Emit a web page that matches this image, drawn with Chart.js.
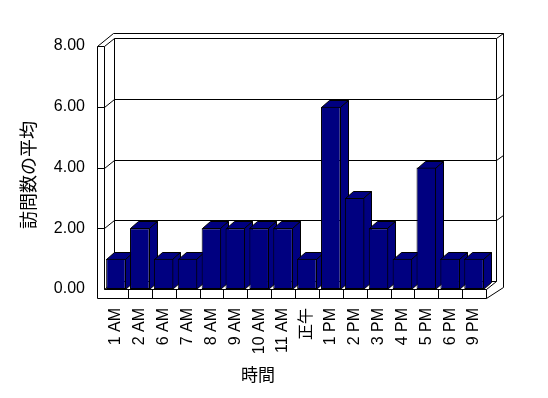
<!DOCTYPE html>
<html>
<head>
<meta charset="utf-8">
<script src="https://cdn.jsdelivr.net/npm/chart.js@4.4.1/dist/chart.umd.min.js"></script>
<style>
  html, body { margin: 0; padding: 0; background: #fff; }
  canvas { display: block; }
</style>
</head>
<body>
<canvas id="visits" width="548" height="398"></canvas>
<script>
// data
const hours = ['1 AM', '2 AM', '6 AM', '7 AM', '8 AM', '9 AM', '10 AM', '11 AM', '正午',
  '1 PM', '2 PM', '3 PM', '4 PM', '5 PM', '6 PM', '9 PM'];
const avgVisits = [1, 2, 1, 1, 2, 2, 2, 2, 1, 6, 3, 2, 1, 4, 1, 1];
const yTicks = [0, 2, 4, 6, 8];
const yTitle = '訪問数の平均';
const xTitle = '時間';

const NAVY = '#000080';
const FONT = "'Liberation Sans', 'Noto Sans CJK JP', sans-serif";
const DX = 8, DY = 7;    // bar depth
const WX = 10, WY = 8;   // back wall offset
const SLAB = 7;          // wall thickness

function path(ctx, pts, fill) {
  ctx.beginPath();
  ctx.moveTo(Math.round(pts[0][0]) + .5, Math.round(pts[0][1]) + .5);
  for (let i = 1; i < pts.length; i++) {
    ctx.lineTo(Math.round(pts[i][0]) + .5, Math.round(pts[i][1]) + .5);
  }
  if (fill) { ctx.closePath(); ctx.fillStyle = fill; ctx.fill(); }
  ctx.stroke();
}

// walls, floor, gridlines and the top/side faces of the columns
const box3d = {
  id: 'box3d',
  beforeDatasetsDraw(chart) {
    const ctx = chart.ctx;
    const {left: L, right: R, top: T, bottom: B} = chart.chartArea;
    const ys = chart.scales.y, xs = chart.scales.x;
    ctx.save();
    ctx.strokeStyle = '#000';
    ctx.lineWidth = 1;

    // back wall + floor back edge
    path(ctx, [[L + WX, T - WY], [L + WX, B - WY], [R + WX, B - WY], [R + WX, T - WY]]);
    path(ctx, [[L, B], [L + WX, B - WY]]);
    path(ctx, [[R, B], [R + WX, B - WY]]);

    // gridlines (front slab, diagonal, back wall, right slab)
    yTicks.forEach(v => {
      if (v === 0) return;
      const y = ys.getPixelForValue(v);
      path(ctx, [[L - SLAB, y], [L, y], [L + WX, y - WY], [R + WX, y - WY], [R + WX + 7, y - WY - 5]]);
    });

    // outer edges
    path(ctx, [[L - SLAB, T], [L - SLAB + 16, T - 13], [R + WX + 7, T - 13], [R + WX + 7, B - 2], [R, B + 9]]);
    path(ctx, [[L - SLAB, T], [L - SLAB, B + 9], [R, B + 9], [R, B], [L, B], [L, T]]);

    // tick marks on the floor front
    for (let i = 1; i < hours.length; i++) {
      const x = (xs.getPixelForTick(i - 1) + xs.getPixelForTick(i)) / 2;
      path(ctx, [[x, B], [x, B + 9]]);
    }

    // column depth faces, left to right
    chart.getDatasetMeta(0).data.forEach(bar => {
      const p = bar.getProps(['x', 'y', 'base', 'width'], true);
      const xl = p.x - p.width / 2, xr = p.x + p.width / 2 - 1;
      path(ctx, [[xl, p.y], [xl + DX, p.y - DY], [xr + DX, p.y - DY], [xr, p.y]], NAVY);
      path(ctx, [[xr, p.y], [xr + DX, p.y - DY], [xr + DX, p.base - DY], [xr, p.base]], NAVY);
    });
    ctx.restore();
  },
  afterDraw(chart) {
    const ctx = chart.ctx;
    ctx.save();
    ctx.fillStyle = '#000';
    ctx.textAlign = 'center';
    ctx.textBaseline = 'middle';
    ctx.font = "18px 'Noto Sans CJK JP', sans-serif";
    ctx.translate(28, 175);
    ctx.rotate(-Math.PI / 2);
    ctx.fillText(yTitle, 0, 0);
    ctx.restore();
    ctx.save();
    ctx.fillStyle = '#000';
    ctx.textAlign = 'center';
    ctx.textBaseline = 'middle';
    ctx.font = "17px 'Noto Sans CJK JP', sans-serif";
    ctx.fillText(xTitle, 258, 375);
    ctx.restore();
  }
};

window.onload = function() {
  const ctx = document.querySelector('#visits');

  const chartData = {
    labels: hours,
    datasets: [{
      label: yTitle,
      data: avgVisits,
      backgroundColor: NAVY,
      borderColor: '#000',
      borderWidth: 1,
      borderSkipped: false,
      barPercentage: 1,
      categoryPercentage: 0.82
    }]
  };

  new Chart(ctx, {
    type: 'bar',
    data: chartData,
    plugins: [box3d],
    options: {
      responsive: false,
      animation: false,
      devicePixelRatio: 1,
      layout: { padding: { top: 46, right: 62, left: 0, bottom: 0 } },
      plugins: { legend: { display: false }, tooltip: { enabled: false } },
      scales: {
        x: {
          grid: { display: false, drawTicks: false },
          border: { display: false },
          ticks: {
            color: '#000', font: { family: FONT, size: 16 },
            minRotation: 90, maxRotation: 90, autoSkip: false, padding: 19
          },
          afterFit(scale) { scale.height = 109; }
        },
        y: {
          min: 0, max: 8,
          grid: { display: false, drawTicks: false },
          border: { display: false },
          ticks: {
            color: '#000', font: { family: FONT, size: 16 },
            stepSize: 2, padding: 19,
            callback: v => v.toFixed(2)
          },
          afterFit(scale) { scale.width = 104; }
        }
      }
    }
  });
};
</script>
</body>
</html>
